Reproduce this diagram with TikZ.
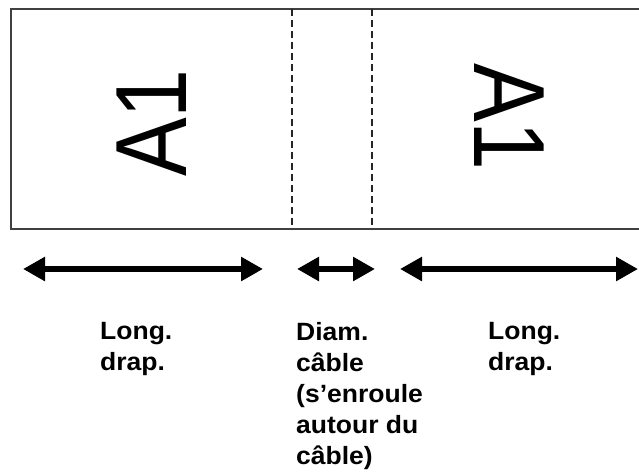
\documentclass[tikz,border=0pt]{standalone}
\usepackage{fontspec}
\setmainfont{Liberation Sans}
\usetikzlibrary{positioning,arrows.meta}
\tikzset{
  dimarrow/.style={{Triangle[length=22pt,width=23pt]}-{Triangle[length=22pt,width=23pt]}, line width=6.5pt},
  stripline/.style={line width=2pt, black!75},
  foldline/.style={dash pattern=on 7pt off 4pt, line width=1.4pt, black!85},
  tagtext/.style={inner sep=0pt, yscale=1.15, font=\fontsize{88}{88}\selectfont},
  dimlabel/.style={inner sep=0pt, xscale=1.06, align=left, anchor=north west, font=\bfseries\fontsize{25}{31}\selectfont}
}

\begin{document}
\begin{tikzpicture}[x=1pt, y=-1pt]
  \useasboundingbox (0,0) rectangle (639,472);
  \clip (0,0) rectangle (639,472);
  % label strip, runs off the right edge
  \draw[stripline] (11,9) rectangle (660,229);
  \coordinate (foldAtop) at (292,9);
  \coordinate (foldAbot) at (292,229);
  \coordinate (foldBtop) at (372,9);
  \coordinate (foldBbot) at (372,229);
  \draw[foldline] (foldAtop) -- (foldAbot);
  \draw[foldline] (foldBtop) -- (foldBbot);
  \node[rotate=90, tagtext, anchor=west] (tagleft) at (152,177) {A1};
  \node[rotate=-90, tagtext, anchor=west] (tagright) at (509,63) {A1};
  % dimensions
  \coordinate (lenLa) at (23,269);
  \coordinate (lenLb) at (263,269);
  \coordinate (diama) at (297,269);
  \coordinate (diamb) at (375,269);
  \coordinate (lenRa) at (400,269);
  \coordinate (lenRb) at (638,269);
  \draw[dimarrow] (lenLa) -- (lenLb);
  \draw[dimarrow] (diama) -- (diamb);
  \draw[dimarrow] (lenRa) -- (lenRb);
  \node[dimlabel] (lenLtext) at (100,322) {Long.\\drap.};
  \node[dimlabel] (diamtext) at (296,322) {Diam.\\câble\\(s’enroule\\autour du\\câble)};
  \node[dimlabel] (lenRtext) at (488,322) {Long.\\drap.};
\end{tikzpicture}
\end{document}
